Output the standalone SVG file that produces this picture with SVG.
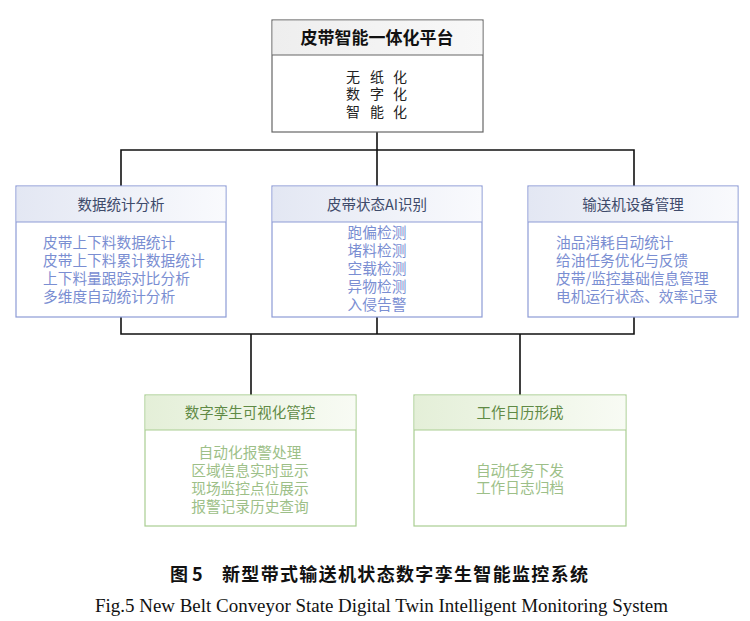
<svg xmlns="http://www.w3.org/2000/svg" width="750" height="621" viewBox="0 0 750 621">
<defs>
<linearGradient id="gTop" x1="0" y1="0" x2="1" y2="0"><stop offset="0" stop-color="#eeeeee"/><stop offset="1" stop-color="#f8f8f8"/></linearGradient>
<linearGradient id="gBlue" x1="0" y1="0" x2="1" y2="0"><stop offset="0" stop-color="#e3e7f3"/><stop offset="1" stop-color="#f9fafd"/></linearGradient>
<linearGradient id="gGreen" x1="0" y1="0" x2="1" y2="0"><stop offset="0" stop-color="#e4efd8"/><stop offset="1" stop-color="#f8fbf4"/></linearGradient>
<style>
text{font-family:"Noto Sans CJK SC","Noto Sans",sans-serif;}
.tb{fill:#ffffff;stroke:#666666;stroke-width:1.2;}
.bb{fill:#ffffff;stroke:#8d9bd6;stroke-width:1.2;}
.gb{fill:#ffffff;stroke:#a9cd91;stroke-width:1.2;}
.th{font-size:17px;font-weight:bold;fill:#111111;text-anchor:middle;}
.tt{font-size:14px;fill:#222222;text-anchor:middle;}
.bh{font-size:14.5px;fill:#3e4a6a;text-anchor:middle;}
.bt{font-size:14.7px;fill:#7a8ed2;}
.gh{font-size:14.5px;fill:#5f8a45;text-anchor:middle;}
.gt{font-size:14.7px;fill:#9dbf88;text-anchor:middle;}
.conn{stroke:#111111;stroke-width:1.6;fill:none;}
</style>
</defs>
<rect width="750" height="621" fill="#ffffff"/>
<g id="connectors">
<path class="conn" d="M377 132 V186 M121 186 V150 H634 V186"/>
<path class="conn" d="M121 317 V334 H634 V317 M377 317 V334 M251 334 V395 M520 334 V395"/>
</g>
<g id="top">
<rect class="tb" x="272" y="20" width="211" height="112"/>
<rect x="272.6" y="20.6" width="209.8" height="34.4" fill="url(#gTop)"/>
<line x1="272" y1="55" x2="483" y2="55" stroke="#666666" stroke-width="1.2"/>
<text class="th" x="377" y="44">皮带智能一体化平台</text>
<text class="tt" x="353 377 400" y="82">无纸化</text>
<text class="tt" x="353 377 400" y="99">数字化</text>
<text class="tt" x="353 377 400" y="117">智能化</text>
</g>
<g id="stats">
<rect class="bb" x="16" y="186" width="210" height="131"/>
<rect x="16.6" y="186.6" width="208.8" height="35.4" fill="url(#gBlue)"/>
<line x1="16" y1="222" x2="226" y2="222" stroke="#8d9bd6" stroke-width="1.2"/>
<text class="bh" x="121" y="210">数据统计分析</text>
<text class="bt" x="43" y="248">皮带上下料数据统计</text>
<text class="bt" x="43" y="266">皮带上下料累计数据统计</text>
<text class="bt" x="43" y="284">上下料量跟踪对比分析</text>
<text class="bt" x="43" y="302">多维度自动统计分析</text>
</g>
<g id="ai">
<rect class="bb" x="272" y="186" width="210" height="131"/>
<rect x="272.6" y="186.6" width="208.8" height="35.4" fill="url(#gBlue)"/>
<line x1="272" y1="222" x2="482" y2="222" stroke="#8d9bd6" stroke-width="1.2"/>
<text class="bh" x="377" y="210">皮带状态AI识别</text>
<text class="bt" x="377" y="238" text-anchor="middle">跑偏检测</text>
<text class="bt" x="377" y="256" text-anchor="middle">堵料检测</text>
<text class="bt" x="377" y="274" text-anchor="middle">空载检测</text>
<text class="bt" x="377" y="292" text-anchor="middle">异物检测</text>
<text class="bt" x="377" y="310" text-anchor="middle">入侵告警</text>
</g>
<g id="equip">
<rect class="bb" x="528" y="186" width="210" height="131"/>
<rect x="528.6" y="186.6" width="208.8" height="35.4" fill="url(#gBlue)"/>
<line x1="528" y1="222" x2="738" y2="222" stroke="#8d9bd6" stroke-width="1.2"/>
<text class="bh" x="633" y="210">输送机设备管理</text>
<text class="bt" x="556" y="248">油品消耗自动统计</text>
<text class="bt" x="556" y="266">给油任务优化与反馈</text>
<text class="bt" x="556" y="284">皮带/监控基础信息管理</text>
<text class="bt" x="556" y="302">电机运行状态、效率记录</text>
</g>
<g id="twin">
<rect class="gb" x="145" y="395" width="211" height="131"/>
<rect x="145.6" y="395.6" width="209.8" height="34.4" fill="url(#gGreen)"/>
<line x1="145" y1="430" x2="356" y2="430" stroke="#a9cd91" stroke-width="1.2"/>
<text class="gh" x="250" y="418">数字孪生可视化管控</text>
<text class="gt" x="250" y="458">自动化报警处理</text>
<text class="gt" x="250" y="476">区域信息实时显示</text>
<text class="gt" x="250" y="494">现场监控点位展示</text>
<text class="gt" x="250" y="512">报警记录历史查询</text>
</g>
<g id="calendar">
<rect class="gb" x="414" y="395" width="212" height="131"/>
<rect x="414.6" y="395.6" width="210.8" height="34.4" fill="url(#gGreen)"/>
<line x1="414" y1="430" x2="626" y2="430" stroke="#a9cd91" stroke-width="1.2"/>
<text class="gh" x="520" y="418">工作日历形成</text>
<text class="gt" x="520" y="476">自动任务下发</text>
<text class="gt" x="520" y="493">工作日志归档</text>
</g>
<g id="caption">
<text x="170" y="581" style="font-size:18px;font-weight:bold;fill:#111111;" xml:space="preserve">图 5</text>
<text x="222" y="581" style="font-size:18px;font-weight:bold;fill:#111111;" textLength="366" lengthAdjust="spacing">新型带式输送机状态数字孪生智能监控系统</text>
<text x="95" y="612" style="font-family:'Liberation Serif',serif;font-size:18.5px;fill:#111111;" textLength="573" lengthAdjust="spacingAndGlyphs">Fig.5 New Belt Conveyor State Digital Twin Intelligent Monitoring System</text>
</g>
</svg>
